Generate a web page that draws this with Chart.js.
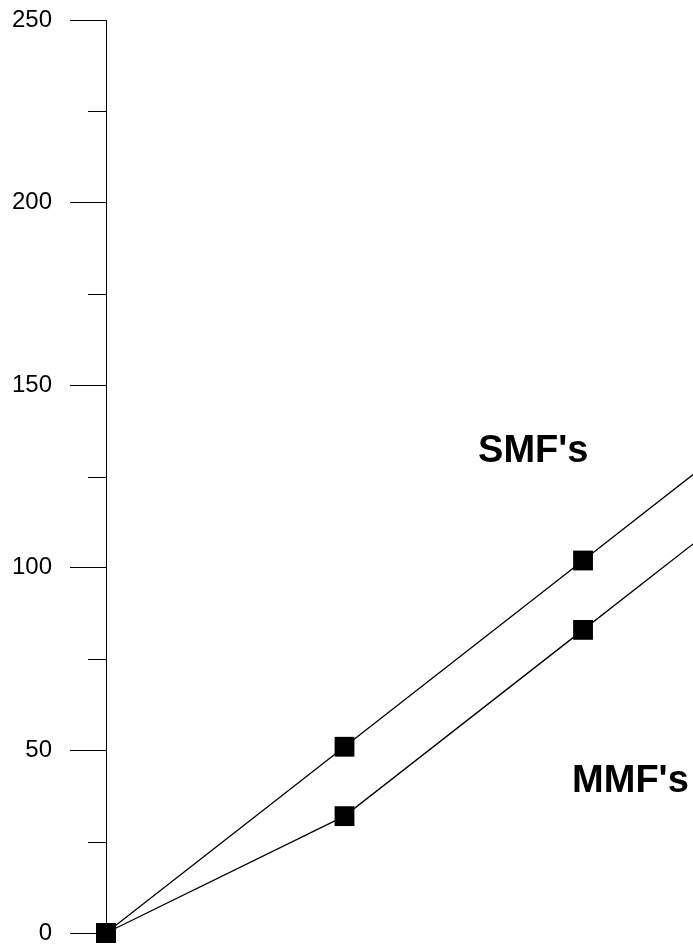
<!DOCTYPE html>
<html>
<head>
<meta charset="utf-8">
<script src="https://cdn.jsdelivr.net/npm/chart.js@4.4.1/dist/chart.umd.min.js"></script>
<style>
  html, body { margin: 0; padding: 0; background: #fff; overflow: hidden; }
  #wrap { width: 693px; height: 944px; }
  canvas { display: block; }
</style>
</head>
<body>
<div id="wrap"><canvas id="grafica"></canvas></div>
<script>
/* ── datos ── */
const pasos = [0, 1, 2, 3];            // eje x (oculto); el 4º punto queda fuera del lienzo
const smf   = [0, 51, 102, 153];
const mmf   = [0, 32, 83, 134];
const series = ["SMF's", "MMF's"];
const yTicks = [0, 50, 100, 150, 200, 250];

const fuente = '"Liberation Sans", Arial, Helvetica, sans-serif';

function puntos(valores) {
    return pasos.map((x, i) => ({ x: x, y: valores[i] }));
}

/* ── marcas menores del eje y y rótulos de las series ── */
const extras = {
    id: 'extras',
    afterDraw(chart) {
        const ctx = chart.ctx;
        const ys = chart.scales.y;
        const xs = chart.scales.x;
        ctx.save();
        ctx.strokeStyle = '#000';
        ctx.lineWidth = 1;
        for (let v = 25; v < 250; v += 50) {
            const py = Math.round(ys.getPixelForValue(v)) + 0.5;
            ctx.beginPath();
            ctx.moveTo(ys.right - 18, py);
            ctx.lineTo(ys.right, py);
            ctx.stroke();
        }
        ctx.fillStyle = '#000';
        ctx.font = 'bold 38px ' + fuente;
        ctx.textBaseline = 'alphabetic';
        ctx.textAlign = 'left';
        ctx.fillText(series[0], xs.getPixelForValue(1.56), ys.getPixelForValue(129));
        ctx.fillText(series[1], xs.getPixelForValue(1.954), ys.getPixelForValue(38.6));
        ctx.restore();
    }
};

const estiloSerie = {
    borderColor: '#000',
    borderWidth: 1.3,
    backgroundColor: '#000',
    pointStyle: 'rect',
    pointRadius: 14,
    pointBorderWidth: 0,
    pointBackgroundColor: '#000',
    tension: 0,
    clip: false
};

new Chart(document.getElementById('grafica'), {
    type: 'line',
    data: {
        datasets: [
            Object.assign({ label: series[0], data: puntos(smf) }, estiloSerie),
            Object.assign({ label: series[1], data: puntos(mmf) }, estiloSerie)
        ]
    },
    options: {
        responsive: true,
        maintainAspectRatio: false,
        animation: false,
        layout: { autoPadding: false, padding: { top: 20, bottom: 11, left: 0, right: 0 } },
        plugins: {
            legend: { display: false },
            tooltip: { enabled: false }
        },
        scales: {
            x: {
                type: 'linear',
                display: false,
                min: 0,
                max: 2.461
            },
            y: {
                min: 0,
                max: 250,
                afterFit: s => {
                    s.width = 106;
                    s.paddingTop = 0;
                    s.paddingBottom = 0;
                },
                afterBuildTicks: s => { s.ticks = yTicks.map(v => ({ value: v })); },
                border: { display: true, color: '#000', width: 1 },
                grid: {
                    drawOnChartArea: false,
                    drawTicks: true,
                    tickLength: 36,
                    tickColor: '#000',
                    tickWidth: 1
                },
                ticks: {
                    padding: 18,
                    color: '#000',
                    font: { family: fuente, size: 24 }
                }
            }
        }
    },
    plugins: [extras]
});
</script>
</body>
</html>
